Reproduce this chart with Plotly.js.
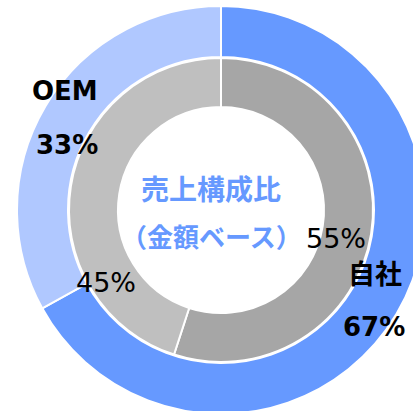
<!DOCTYPE html>
<html>
<head>
<meta charset="utf-8">
<script src="https://cdn.plot.ly/plotly-3.0.1.min.js"></script>
<style>
  html, body { margin: 0; padding: 0; width: 413px; height: 411px; overflow: hidden; background: #fff; }
  #myDiv { position: absolute; left: 0; top: 6px; }
</style>
</head>
<body>
<div id="myDiv"></div>
<script>
var outerLabels = ['自社', 'OEM'];
var outerValues = [67, 33];
var innerLabels = ['自社', 'OEM'];
var innerValues = [55, 45];
var centerLines = ['売上構成比', '（金額ベース）'];

var W = 442, H = 408;
function px(x) { return x / W; }
function py(y) { return 1 - (y - 6) / H; }

var rIn = 152;
var outer = {
  type: 'pie',
  labels: outerLabels,
  values: outerValues,
  sort: false,
  direction: 'clockwise',
  rotation: 0,
  hole: 153 / 204,
  textinfo: 'none',
  marker: {colors: ['#6699FF', '#B0C8FF'], line: {color: '#FFFFFF', width: 2}},
  domain: {x: [0, 1], y: [0, 1]},
  showlegend: false
};

var inner = {
  type: 'pie',
  labels: innerLabels,
  values: innerValues,
  sort: false,
  direction: 'clockwise',
  rotation: 0,
  hole: 103 / rIn,
  textinfo: 'none',
  marker: {colors: ['#A6A6A6', '#BFBFBF'], line: {color: '#FFFFFF', width: 2}},
  domain: {x: [(221 - rIn) / W, (221 + rIn) / W], y: [(204 - rIn) / H, (204 + rIn) / H]},
  showlegend: false
};

var boldFont = {family: 'DejaVu Sans, Noto Sans CJK JP, sans-serif', size: 26, color: '#000000', weight: 'bold'};
var jpFont = {family: 'Noto Sans CJK JP, sans-serif', size: 27, color: '#000000', weight: 'bold'};
var plainFont = {family: 'DejaVu Sans, sans-serif', size: 27, color: '#000000'};
var centerFont1 = {family: 'Noto Sans CJK JP, sans-serif', size: 28, color: '#6699FF', weight: 'bold'};
var centerFont2 = {family: 'Noto Sans CJK JP, sans-serif', size: 26, color: '#6699FF', weight: 'bold'};

function ann(text, x, y, font) {
  return {text: text, x: px(x), y: py(y), xref: 'paper', yref: 'paper',
    xanchor: 'center', yanchor: 'middle', showarrow: false, font: font};
}

var annotations = [
  ann('<b>' + outerLabels[1] + '</b>', 65, 91, boldFont),
  ann('<b>' + outerValues[1] + '%</b>', 67, 145, boldFont),
  ann('<b>' + outerLabels[0] + '</b>', 375, 272, jpFont),
  ann('<b>' + outerValues[0] + '%</b>', 374, 327, boldFont),
  ann(innerValues[0] + '%', 336, 238, plainFont),
  ann(innerValues[1] + '%', 106, 282, plainFont),
  ann('<b>' + centerLines[0] + '</b>', 211, 188, centerFont1),
  ann('<b>' + centerLines[1] + '</b>', 211, 235, centerFont2)
];

var layout = {
  width: W,
  height: H,
  margin: {l: 0, r: 0, t: 0, b: 0},
  paper_bgcolor: '#FFFFFF',
  annotations: annotations
};

Plotly.newPlot('myDiv', [outer, inner], layout, {displayModeBar: false, staticPlot: true});
</script>
</body>
</html>
